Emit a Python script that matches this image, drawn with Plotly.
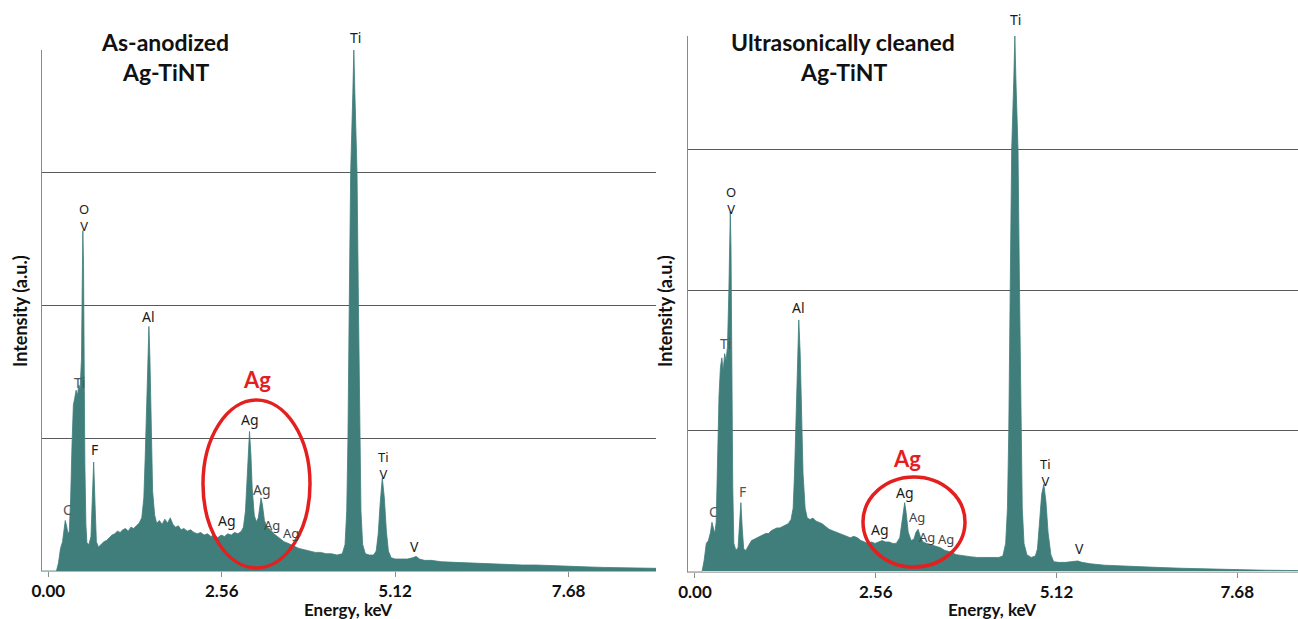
import plotly.graph_objects as go

# ---------------- data ----------------
energy_tick_vals = [0.0, 2.56, 5.12, 7.68]
energy_tick_text = ["0.00", "2.56", "5.12", "7.68"]

# As-anodized Ag-TiNT spectrum: energy (keV) and intensity (a.u.)
energy_as = [-0.09, 0.12, 0.15, 0.18, 0.21, 0.23, 0.25, 0.27, 0.29, 0.31, 0.33, 0.35, 0.37, 0.39, 0.41,
             0.43, 0.45, 0.47, 0.49, 0.50, 0.51, 0.52, 0.53, 0.54, 0.555, 0.57, 0.60, 0.63, 0.65, 0.67,
             0.69, 0.71, 0.74, 0.78, 0.82, 0.86, 0.90, 0.94, 0.98, 1.02, 1.06, 1.10, 1.14, 1.18, 1.22,
             1.26, 1.30, 1.34, 1.38, 1.41, 1.43, 1.45, 1.47, 1.485, 1.50, 1.52, 1.54, 1.57, 1.60, 1.64,
             1.68, 1.72, 1.76, 1.80, 1.84, 1.88, 1.92, 1.96, 2.00, 2.05, 2.10, 2.15, 2.20, 2.25, 2.30,
             2.35, 2.40, 2.45, 2.50, 2.55, 2.60, 2.65, 2.70, 2.75, 2.80, 2.85, 2.88, 2.91, 2.93, 2.95,
             2.97, 2.99, 3.01, 3.04, 3.07, 3.10, 3.12, 3.14, 3.16, 3.19, 3.23, 3.28, 3.33, 3.38, 3.43,
             3.48, 3.53, 3.58, 3.63, 3.70, 3.78, 3.86, 3.94, 4.02, 4.10, 4.18, 4.26, 4.34, 4.38, 4.405,
             4.423, 4.442, 4.463, 4.495, 4.51, 4.525, 4.557, 4.578, 4.597, 4.615, 4.64, 4.68, 4.74, 4.80,
             4.84, 4.87, 4.90, 4.93, 4.96, 4.99, 5.02, 5.06, 5.12, 5.20, 5.30, 5.38, 5.43, 5.48, 5.55,
             5.65, 5.80, 6.00, 6.20, 6.40, 6.60, 6.80, 7.00, 7.20, 7.40, 7.60, 7.80, 8.00, 8.20, 8.40,
             8.60, 8.80, 8.97]
counts_as = [0.0, 0.0, 0.06, 0.17, 0.22, 0.30, 0.38, 0.34, 0.28, 0.30, 0.55, 0.95, 1.25, 1.30, 1.36,
             1.32, 1.40, 1.37, 1.60, 2.10, 2.56, 2.30, 1.40, 0.80, 0.35, 0.21, 0.20, 0.26, 0.55, 0.82,
             0.50, 0.22, 0.18, 0.20, 0.22, 0.23, 0.25, 0.27, 0.28, 0.30, 0.29, 0.31, 0.32, 0.30, 0.33,
             0.32, 0.34, 0.36, 0.40, 0.55, 0.85, 1.30, 1.70, 1.84, 1.60, 1.05, 0.60, 0.42, 0.36, 0.38,
             0.35, 0.39, 0.36, 0.40, 0.35, 0.33, 0.34, 0.31, 0.32, 0.30, 0.31, 0.29, 0.28, 0.29, 0.27,
             0.28, 0.26, 0.27, 0.25, 0.27, 0.26, 0.28, 0.27, 0.29, 0.28, 0.30, 0.33, 0.45, 0.62, 0.88,
             1.05, 0.88, 0.62, 0.42, 0.37, 0.40, 0.50, 0.55, 0.50, 0.38, 0.33, 0.31, 0.28, 0.26, 0.24,
             0.22, 0.21, 0.20, 0.19, 0.17, 0.16, 0.15, 0.14, 0.14, 0.13, 0.13, 0.12, 0.13, 0.20, 0.45,
             1.00, 2.00, 3.00, 3.60, 3.92, 3.60, 3.00, 2.00, 1.00, 0.45, 0.20, 0.13, 0.12, 0.12,
             0.15, 0.28, 0.52, 0.70, 0.55, 0.30, 0.15, 0.10, 0.09, 0.09, 0.09, 0.10, 0.11, 0.09, 0.08,
             0.08, 0.07, 0.065, 0.06, 0.06, 0.055, 0.05, 0.045, 0.045, 0.04, 0.035, 0.032, 0.03, 0.027, 0.025,
             0.022, 0.02, 0.02]

# Ultrasonically cleaned Ag-TiNT spectrum
energy_uc = [-0.10, 0.10, 0.13, 0.16, 0.19, 0.22, 0.24, 0.26, 0.28, 0.30, 0.32, 0.34, 0.36, 0.38, 0.40,
             0.42, 0.44, 0.46, 0.48, 0.49, 0.50, 0.51, 0.52, 0.535, 0.55, 0.58, 0.61, 0.63, 0.65, 0.67,
             0.69, 0.72, 0.76, 0.80, 0.84, 0.88, 0.92, 0.96, 1.00, 1.04, 1.08, 1.12, 1.16, 1.20, 1.24,
             1.28, 1.32, 1.36, 1.39, 1.41, 1.43, 1.45, 1.47, 1.49, 1.51, 1.53, 1.56, 1.59, 1.63, 1.67,
             1.71, 1.75, 1.80, 1.85, 1.90, 1.95, 2.00, 2.05, 2.10, 2.15, 2.20, 2.25, 2.30, 2.35, 2.40,
             2.45, 2.50, 2.55, 2.60, 2.65, 2.70, 2.75, 2.80, 2.85, 2.90, 2.93, 2.95, 2.97, 2.99, 3.02,
             3.06, 3.10, 3.13, 3.16, 3.19, 3.23, 3.28, 3.34, 3.40, 3.47, 3.54, 3.61, 3.70, 3.80, 3.90,
             4.00, 4.10, 4.20, 4.30, 4.36, 4.40, 4.425, 4.444, 4.464, 4.485, 4.515, 4.53, 4.545, 4.575,
             4.596, 4.616, 4.635, 4.66, 4.70, 4.76, 4.82, 4.85, 4.88, 4.91, 4.94, 4.97, 5.00, 5.04,
             5.08, 5.15, 5.25, 5.35, 5.42, 5.48, 5.60, 5.80, 6.00, 6.30, 6.60, 6.90, 7.20, 7.50, 7.80,
             8.10, 8.40, 8.60]
counts_uc = [0.0, 0.0, 0.08, 0.20, 0.22, 0.28, 0.35, 0.30, 0.27, 0.35, 0.80, 1.25, 1.45, 1.52, 1.43,
             1.55, 1.50, 1.60, 2.00, 2.40, 2.56, 2.30, 1.40, 0.60, 0.20, 0.15, 0.17, 0.30, 0.49, 0.30,
             0.16, 0.15, 0.19, 0.22, 0.23, 0.24, 0.25, 0.26, 0.27, 0.27, 0.29, 0.30, 0.31, 0.31, 0.32,
             0.33, 0.34, 0.37, 0.45, 0.70, 1.10, 1.55, 1.79, 1.55, 1.10, 0.70, 0.45, 0.38, 0.37, 0.38,
             0.36, 0.35, 0.34, 0.32, 0.30, 0.29, 0.28, 0.27, 0.26, 0.25, 0.24, 0.25, 0.24, 0.22, 0.21,
             0.20, 0.21, 0.20, 0.21, 0.22, 0.21, 0.21, 0.20, 0.20, 0.24, 0.36, 0.45, 0.49, 0.42, 0.28,
             0.22, 0.23, 0.28, 0.30, 0.25, 0.21, 0.20, 0.19, 0.18, 0.17, 0.15, 0.14, 0.12, 0.11, 0.105,
             0.10, 0.10, 0.10, 0.10, 0.11, 0.20, 0.45, 1.00, 2.00, 3.00, 3.50, 3.81, 3.50, 3.00,
             2.00, 1.00, 0.45, 0.20, 0.12, 0.10, 0.11, 0.16, 0.35, 0.55, 0.62, 0.50, 0.28, 0.12,
             0.07, 0.065, 0.065, 0.07, 0.075, 0.065, 0.055, 0.045, 0.04, 0.033, 0.028, 0.023, 0.018, 0.014, 0.012,
             0.009, 0.007, 0.006]

# ---------------- layout helpers ----------------
W, H = 1298, 619
TEAL = "#3f7e7b"
RED = "#e3201f"


def xp(x):
    return x / W


def yp(y):
    return 1 - y / H


fig = go.Figure()
fig.add_trace(go.Scatter(x=energy_as, y=counts_as, mode="lines", fill="tozeroy",
                         line=dict(color=TEAL, width=0.8), fillcolor=TEAL,
                         xaxis="x", yaxis="y", showlegend=False, hoverinfo="skip"))
fig.add_trace(go.Scatter(x=energy_uc, y=counts_uc, mode="lines", fill="tozeroy",
                         line=dict(color=TEAL, width=0.8), fillcolor=TEAL,
                         xaxis="x2", yaxis="y2", showlegend=False, hoverinfo="skip"))

xcommon = dict(tickmode="array", tickvals=energy_tick_vals, ticktext=energy_tick_text,
               ticks="outside", ticklen=5, tickcolor="#8a8a8a", tickwidth=1, automargin=False,
               showline=True, linecolor="#b5b5b5", linewidth=1, showgrid=False, zeroline=False,
               tickfont=dict(family="Lato", size=17, color="#111111", weight="bold"))
ycommon = dict(showticklabels=False, ticks="", showgrid=True, gridcolor="#5a5a5a", gridwidth=1,
               dtick=1, tick0=0, zeroline=False, showline=True, linecolor="#8a8a8a", linewidth=1,
               automargin=False)

fig.update_layout(
    width=W, height=H, margin=dict(l=0, r=0, t=0, b=0, pad=0, autoexpand=False),
    paper_bgcolor="white", plot_bgcolor="white",
    xaxis=dict(domain=[xp(42), xp(656)], range=[-0.093, 8.97], anchor="y", **xcommon),
    yaxis=dict(domain=[yp(571), yp(50)], range=[0, 3.92], anchor="x", **ycommon),
    xaxis2=dict(domain=[xp(688), 1.0], range=[-0.099, 8.54], anchor="y2", **xcommon),
    yaxis2=dict(domain=[yp(571.5), yp(36)], range=[0, 3.81], anchor="x2", **ycommon),
)

annotations = []


def label(text, x, y, size=14, color="#1a1a1a", bold=False, family="Noto Sans", angle=0):
    annotations.append(dict(text=text, x=xp(x), y=yp(y), xref="paper", yref="paper",
                            xanchor="center", yanchor="middle", showarrow=False, textangle=angle,
                            borderpad=0,
                            font=dict(family=family, size=size, color=color,
                                      weight="bold" if bold else "normal")))


# titles
label("As-anodized", 165, 42, size=23, bold=True, family="Lato", color="#111111")
label("Ag-TiNT", 165, 72, size=23, bold=True, family="Lato", color="#111111")
label("Ultrasonically cleaned", 843, 42, size=23, bold=True, family="Lato", color="#111111")
label("Ag-TiNT", 843, 72, size=23, bold=True, family="Lato", color="#111111")

# axis titles
for cx in (348, 992):
    label("Energy, keV", cx, 609, size=17, bold=True, family="Lato", color="#111111")
for cx in (20, 665):
    label("Intensity (a.u.)", cx, 311, size=18, bold=True, family="Lato", color="#111111", angle=-90)

# left panel peak labels
label("Ti", 355, 38)
label("O<br>V", 84, 218, size=13)
label("Ti", 79, 382, color="#555555")
label("F", 94, 449)
label("C", 67, 509, color="#555555")
label("Al", 148, 316)
label("Ag", 257, 380, size=22, bold=True, family="Lato", color=RED)
label("Ag", 250, 420)
label("Ag", 262, 489, color="#444444")
label("Ag", 227, 520)
label("Ag", 272, 525, size=13, color="#444444")
label("Ag", 291, 533, size=13, color="#444444")
label("Ti<br>V", 383, 465, size=13)
label("V", 415, 546)

# right panel peak labels
label("Ti", 1015, 20)
label("O<br>V", 731, 201, size=13)
label("Ti", 725, 343, color="#555555")
label("F", 742, 491, color="#555555")
label("C", 713, 511, color="#555555")
label("Al", 798, 307)
label("Ag", 907, 458, size=22, bold=True, family="Lato", color=RED)
label("Ag", 905, 492)
label("Ag", 917, 517, size=13, color="#444444")
label("Ag", 880, 529)
label("Ag", 927, 537, size=13, color="#444444")
label("Ag", 946, 539, size=13, color="#444444")
label("Ti<br>V", 1045, 472, size=13)
label("V", 1079, 548)

fig.update_layout(annotations=annotations)

# red ellipses highlighting the Ag peaks
fig.add_shape(type="circle", xref="paper", yref="paper",
              x0=xp(203), x1=xp(310), y0=yp(568), y1=yp(400),
              line=dict(color=RED, width=3.5))
fig.add_shape(type="circle", xref="paper", yref="paper",
              x0=xp(863), x1=xp(965), y0=yp(567), y1=yp(477),
              line=dict(color=RED, width=3.5))

fig.write_html("out.html")
